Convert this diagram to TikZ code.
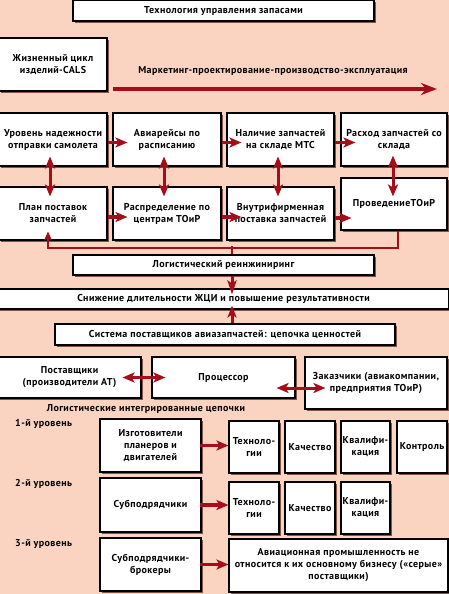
\documentclass[tikz,border=0pt]{standalone}
\usepackage{fontspec}
\setmainfont{PT Sans}[LetterSpace=4]
\usetikzlibrary{arrows.meta,shadows}
\definecolor{bgc}{HTML}{FAD3C1}
\definecolor{arrred}{HTML}{A50D1A}
\definecolor{shadc}{HTML}{5A2A22}
\begin{document}
\begin{tikzpicture}[x=1pt,y=-1pt,
  box/.style={draw=black,line width=1.1pt,fill=white,align=center,inner sep=0pt,
    font=\bfseries\fontsize{10}{12}\selectfont,
    drop shadow={shadow xshift=1.8pt,shadow yshift=-1.8pt,fill=shadc,opacity=0.75}},
  lbl/.style={font=\bfseries\fontsize{10}{12}\selectfont,inner sep=0pt},
  harr/.style={draw=arrred,line width=3.5pt,-{Stealth[length=12pt,width=10pt,inset=3pt]}},
  dbl/.style={draw=arrred,line width=3pt,{Stealth[length=12pt,width=10pt,inset=3pt]}-{Stealth[length=12pt,width=10pt,inset=3pt]}},
  fb/.style={draw=arrred,line width=2pt},
]
\fill[bgc] (0,0) rectangle (449,594);
\useasboundingbox (0,0) rectangle (449,594);

% top
\node[box,minimum width=301pt,minimum height=20.5pt] (top) at (223.5,10.75) {Технология управления запасами};
\node[box,minimum width=108pt,minimum height=53pt] (cals) at (53,64.5) {Жизненный цикл\\изделий-CALS};
\node[lbl] (mark) at (273,71) {Маркетинг-проектирование-производство-эксплуатация};
\coordinate (ma) at (113,89);
\coordinate (mb) at (437,89);
\draw[draw=arrred,line width=4.5pt,-{Stealth[length=16pt,width=12pt,inset=5pt]}] (ma) -- (mb);

% row 1
\node[box,minimum width=108pt,minimum height=53pt] (r1a) at (53,139.5) {Уровень надежности\\отправки самолета};
\node[box,minimum width=108pt,minimum height=53pt] (r1b) at (167,139.5) {Авиарейсы по\\расписанию};
\node[box,minimum width=107pt,minimum height=53pt] (r1c) at (280.5,139.5) {Наличие запчастей\\на складе МТС};
\node[box,minimum width=106pt,minimum height=53pt] (r1d) at (394,139.5) {Расход запчастей со\\склада};
% row 2
\node[box,minimum width=108pt,minimum height=53pt] (r2a) at (53,213.5) {План поставок\\запчастей};
\node[box,minimum width=108pt,minimum height=53pt] (r2b) at (167,213.5) {Распределение по\\центрам ТОиР};
\node[box,minimum width=107pt,minimum height=53pt] (r2c) at (280.5,213.5) {Внутрифирменная\\поставка запчастей};
\node[box,minimum width=106pt,minimum height=52pt] (r2d) at (394,204) {ПроведениеТОиР};

% lower boxes
\node[box,minimum width=301pt,minimum height=20pt] (log) at (223.5,265) {Логистический реинжиниринг};
\node[box,minimum width=451pt,minimum height=20pt] (sn) at (223.5,299) {Снижение длительности ЖЦИ и повышение результативности};
\node[box,minimum width=340pt,minimum height=21pt] (sist) at (225,334.5) {Система поставщиков авиазапчастей: цепочка ценностей};
\node[box,minimum width=143pt,minimum height=41pt] (post) at (69.5,377.5) {Поставщики\\(производители АТ)};
\node[box,minimum width=143pt,minimum height=41pt] (proc) at (223.5,377.5) {Процессор};
\node[box,minimum width=142pt,minimum height=52pt] (zak) at (376,383) {Заказчики (авиакомпании,\\предприятия ТОиР)};

\node[lbl] (lic) at (146,409) {Логистические интегрированные цепочки};
\node[lbl,anchor=west] (u1) at (15,424) {1-й уровень};
\node[lbl,anchor=west] (u2) at (15,484) {2-й уровень};
\node[lbl,anchor=west] (u3) at (15,544) {3-й уровень};

\node[box,minimum width=101pt,minimum height=53pt] (l1) at (150.5,445.5) {Изготовители\\планеров и\\двигателей};
\node[box,minimum width=50pt,minimum height=52pt] (t1) at (254,447) {Техноло-\\гии};
\node[box,minimum width=50pt,minimum height=52pt] (k1) at (310,447) {Качество};
\node[box,minimum width=49pt,minimum height=52pt] (q1) at (365.5,447) {Квалифи-\\кация};
\node[box,minimum width=50pt,minimum height=52pt] (c1) at (422,447) {Контроль};

\node[box,minimum width=101pt,minimum height=54pt] (l2) at (150.5,505) {Субподрядчики};
\node[box,minimum width=50pt,minimum height=52pt] (t2) at (254,508) {Техноло-\\гии};
\node[box,minimum width=50pt,minimum height=52pt] (k2) at (310,508) {Качество};
\node[box,minimum width=49pt,minimum height=52pt] (q2) at (365.5,508) {Квалифи-\\кация};

\node[box,minimum width=101pt,minimum height=53pt] (l3) at (150.5,564.5) {Субподрядчики-\\брокеры};
\node[box,minimum width=219pt,minimum height=53pt] (big) at (338.5,565.5) {Авиационная промышленность не\\относится к их основному бизнесу («серые»\\поставщики)};

% arrows row 1
\draw[harr] ([yshift=-3pt]r1a.east) -- ([shift={(15pt,-3pt)}]r1b.west);
\draw[harr] ([yshift=-3pt]r1b.east) -- ([shift={(15pt,-3pt)}]r1c.west);
\draw[harr] ([yshift=-3pt]r1c.east) -- ([shift={(15pt,-3pt)}]r1d.west);
% arrows row 2
\draw[harr] ([yshift=-3.5pt]r2a.east) -- ([shift={(15pt,-3.5pt)}]r2b.west);
\draw[harr] ([yshift=-3.5pt]r2b.east) -- ([shift={(15pt,-3.5pt)}]r2c.west);
\draw[harr] ([yshift=-4.5pt]r2c.east) -- ([shift={(11pt,-14pt)}]r2d.west);
% vertical double arrows
\draw[dbl] ([shift={(-3pt,10pt)}]r1a.south) -- ([shift={(-3pt,-10pt)}]r2a.north);
\draw[dbl] ([shift={(-3pt,10pt)}]r1b.south) -- ([shift={(-3pt,-10pt)}]r2b.north);
\draw[dbl] ([shift={(-2.5pt,10pt)}]r1c.south) -- ([shift={(-2.5pt,-10pt)}]r2c.north);
\draw[dbl] ([shift={(-1pt,11pt)}]r1d.south) -- ([shift={(-1pt,-19pt)}]r2d.north);
% feedback
\draw[fb,-{Stealth[length=9pt,width=8pt,inset=2.5pt]}] ([xshift=4pt]r2d.south) -- ++(0,17) -| ([shift={(-5pt,9pt)}]r2a.south);
\draw[fb] ([xshift=8.5pt]log.north) -- ++(0,-8);
% vertical arrows
\draw[draw=arrred,line width=3pt,-{Stealth[length=14pt,width=9pt,inset=3pt]}] ([xshift=8.5pt]log.south) -- ([shift={(8.5pt,-6pt)}]sn.north);
\draw[draw=arrred,line width=3pt,-{Stealth[length=12pt,width=9pt,inset=3pt]}] ([xshift=7pt]sist.north) -- ([shift={(8.5pt,4pt)}]sn.south);
% horizontal double arrows
\draw[dbl] ([xshift=-19pt]post.east) -- ([xshift=14pt]proc.west);
\draw[dbl] ([shift={(-19pt,-10.5pt)}]proc.east) -- ([shift={(21pt,-5pt)}]zak.west);
% level arrows
\draw[harr] ([xshift=-2pt]l1.east) -- (t1.west |- l1.east);
\draw[harr] ([xshift=-2pt]l2.east) -- (t2.west |- l2.east);
\draw[harr] ([xshift=-2pt]l3.east) -- (big.west |- l3.east);
\end{tikzpicture}
\end{document}
